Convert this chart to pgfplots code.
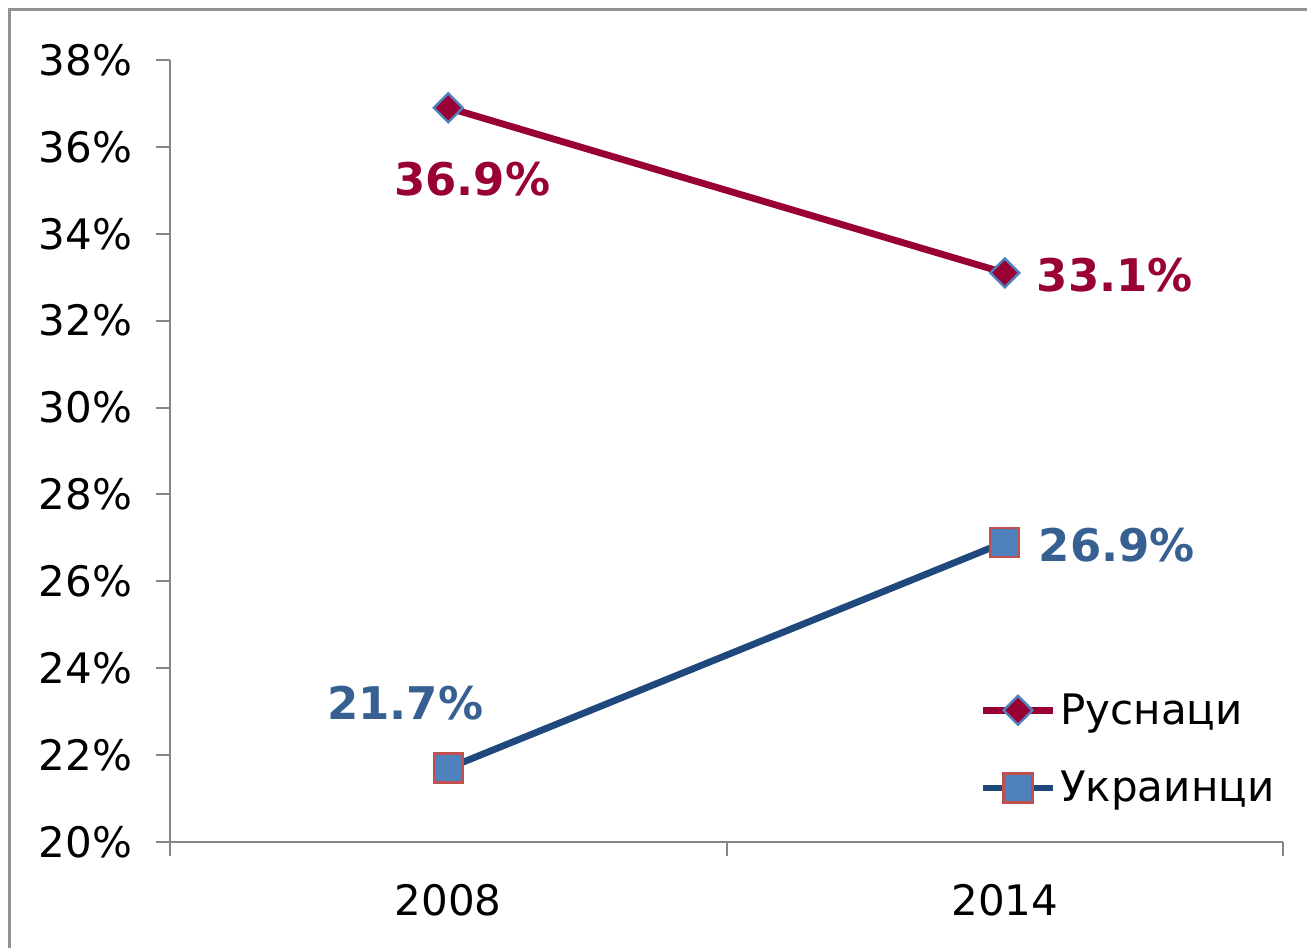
\documentclass[border=0pt]{standalone}
\usepackage{pgfplots}
\pgfplotsset{compat=1.18}
\usepackage{fontspec}
\setmainfont{DejaVu Sans}
\definecolor{rusred}{HTML}{990033}
\definecolor{ukrblue}{HTML}{1F497D}
\definecolor{mfill}{HTML}{4F81BD}
\definecolor{mborder}{HTML}{C0504D}
\definecolor{lblblue}{HTML}{376092}
\definecolor{axgray}{HTML}{868686}
\begin{document}
\begin{tikzpicture}
\path[use as bounding box] (-85pt,-53pt) rectangle (568.5pt,421pt);
\draw[line width=1.5pt, color=axgray!90] (-80pt,-60pt) -- (-80pt,416pt) -- (575pt,416pt);
\begin{axis}[
  at={(0,0)}, anchor=south west,
  scale only axis, width=556.5pt, height=391pt,
  xmin=0.5, xmax=2.5, ymin=20, ymax=38,
  axis lines*=left,
  axis line style={color=axgray, line width=1pt},
  every tick/.style={color=axgray, line width=1pt},
  tick align=outside,
  major tick length=7pt,
  xtick={0.5,1.5,2.5}, xticklabels={},
  extra x ticks={1,2}, extra x tick labels={2008,2014},
  extra x tick style={major tick length=0pt, xticklabel style={yshift=-17.5pt}},
  ytick={20,22,...,38},
  yticklabel={\pgfmathprintnumber{\tick}\%},
  yticklabel style={xshift=-8.5pt},
  /pgf/number format/assume math mode=true,
  tick label style={font=\fontsize{21}{25}\selectfont, color=black},
  clip=false,
  legend style={draw=none, fill=none, at={(0.727,0.042)}, anchor=south west,
    font=\fontsize{21}{25}\selectfont, row sep=18pt, inner sep=0pt,
    /tikz/every even column/.append style={column sep=3pt}},
  legend cell align=left,
  legend image code/.code={\draw[mark repeat=2,mark phase=2] plot coordinates {(0pt,0pt) (17.5pt,0pt) (35pt,0pt)};},
]
\addplot[color=rusred, line width=3.4pt, mark=square*, mark size=5.1pt,
  mark options={fill=rusred, draw=mfill, line width=1.2pt, solid, rotate=45}]
  coordinates {(1,36.9) (2,33.1)};
\addlegendentry{Руснаци}
\addplot[color=ukrblue, line width=3.4pt, mark=square*, mark size=7.25pt,
  mark options={fill=mfill, draw=mborder, line width=1.2pt, solid}]
  coordinates {(1,21.7) (2,26.9)};
\addlegendentry{Украинци}
\node[text=rusred, font=\bfseries\fontsize{22.5}{26}\selectfont] at ([xshift=12pt,yshift=-35.5pt]axis cs:1,36.9) {36.9\%};
\node[text=rusred, font=\bfseries\fontsize{22.5}{26}\selectfont] at ([xshift=55pt,yshift=-1pt]axis cs:2,33.1) {33.1\%};
\node[text=lblblue, font=\bfseries\fontsize{22.5}{26}\selectfont] at ([xshift=56pt,yshift=-1.5pt]axis cs:2,26.9) {26.9\%};
\node[text=lblblue, font=\bfseries\fontsize{22.5}{26}\selectfont] at ([xshift=-21.5pt,yshift=32.5pt]axis cs:1,21.7) {21.7\%};
\end{axis}
\end{tikzpicture}
\end{document}
